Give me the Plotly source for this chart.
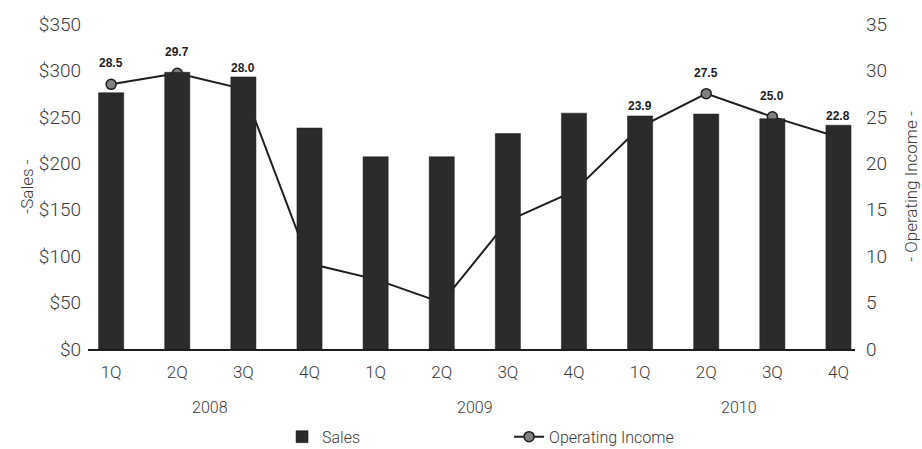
import plotly.graph_objects as go

# Quarterly results, 2008-2010
quarters = ["1Q", "2Q", "3Q", "4Q", "1Q", "2Q", "3Q", "4Q", "1Q", "2Q", "3Q", "4Q"]
years = ["2008"] * 4 + ["2009"] * 4 + ["2010"] * 4
sales = [276, 298, 293, 238, 207, 207, 232, 254, 251, 253, 248, 241]
operating_income = [28.5, 29.7, 28.0, 9.2, 7.5, 5.0, 13.8, 17.0, 23.9, 27.5, 25.0, 22.8]
labeled_points = [0, 1, 2, 8, 9, 10, 11]

sales_ticks = [0, 50, 100, 150, 200, 250, 300, 350]
income_ticks = [0, 5, 10, 15, 20, 25, 30, 35]

FONT = "Roboto"
TEXT = "#3a3a3a"
INK = "#1e1e1e"


def light(size):
    return dict(family=FONT, size=size, color=TEXT, weight=300)


xs = list(range(len(quarters)))

fig = go.Figure()

# Line sits on the base axis so the bars (overlaying axis) are drawn over it
fig.add_trace(go.Scatter(
    x=xs, y=operating_income, name="Operating Income", yaxis="y",
    mode="lines+markers",
    line=dict(color=INK, width=2),
    marker=dict(symbol="circle", size=10, color="#808080",
                line=dict(color=INK, width=1.5)),
))

fig.add_trace(go.Bar(
    x=xs, y=sales, name="Sales", yaxis="y2",
    width=0.38,
    marker=dict(color="#2b2b2b", line=dict(color="#1a1a1a", width=0.5)),
))

annotations = []
for i in labeled_points:
    annotations.append(dict(
        x=xs[i], y=operating_income[i], xref="x", yref="y",
        text=f"{operating_income[i]:.1f}", showarrow=False, yshift=21,
        font=dict(family="Liberation Sans", size=12, color=INK, weight="bold"),
    ))

# Year captions centred under each group of quarters
for yr in dict.fromkeys(years):
    idx = [i for i, y in enumerate(years) if y == yr]
    annotations.append(dict(
        x=sum(idx) / len(idx), y=-0.18, xref="x", yref="paper",
        yanchor="middle", text=yr, showarrow=False, font=light(16),
    ))

fig.update_layout(
    width=922, height=449,
    margin=dict(l=88, r=67, t=24, b=100, autoexpand=False),
    paper_bgcolor="white", plot_bgcolor="white",
    font=light(16),
    barmode="overlay",
    xaxis=dict(
        range=[-0.35, 11.25], tickmode="array", tickvals=xs, ticktext=quarters,
        showgrid=False, zeroline=False, showline=True, linecolor=INK, linewidth=1.5,
        ticks="", ticklabelstandoff=7, tickfont=light(17),
    ),
    yaxis=dict(
        side="right", range=[0, 35], tickmode="array", tickvals=income_ticks,
        ticktext=[str(v) for v in income_ticks],
        showgrid=False, zeroline=False, showline=False,
        ticks="", ticklabelstandoff=10, tickfont=light(19),
        title=dict(text="- Operating Income -", font=light(17), standoff=19),
    ),
    yaxis2=dict(
        side="left", overlaying="y", range=[0, 350], tickmode="array",
        tickvals=sales_ticks, ticktext=[f"${v}" for v in sales_ticks],
        showgrid=False, zeroline=False, showline=False, ticks="",
        ticklabelstandoff=6, tickfont=light(19),
        title=dict(text="-Sales -", font=light(17), standoff=0),
    ),
    legend=dict(
        orientation="h", x=0.253, xanchor="left", y=-0.27, yanchor="middle",
        font=light(16), traceorder="reversed",
        entrywidth=182, bgcolor="rgba(0,0,0,0)",
    ),
    annotations=annotations,
)

fig.write_html("out.html")
